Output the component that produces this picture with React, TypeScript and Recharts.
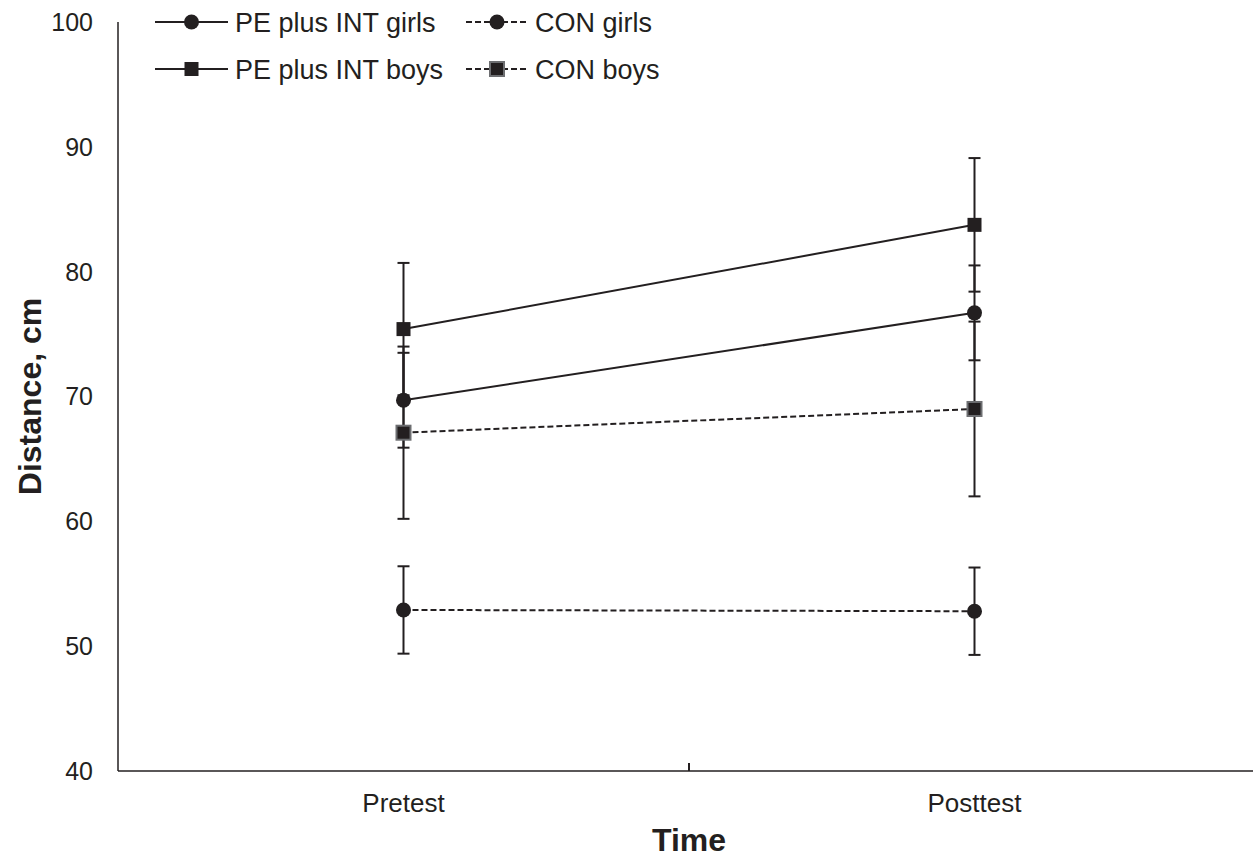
import React from "react";
import { LineChart, Line, XAxis, YAxis, ErrorBar, Legend } from "recharts";

const categories = ["Pretest", "Posttest"];
const peGirls = [69.7, 76.7];
const peGirlsSd = [3.8, 3.8];
const conGirls = [52.9, 52.8];
const conGirlsSd = [3.5, 3.5];
const peBoys = [75.4, 83.75];
const peBoysSd = [5.3, 5.35];
const conBoys = [67.1, 69.0];
const conBoysSd = [6.9, 7.0];
const yTicks = [40, 50, 60, 70, 80, 90, 100];

const INK = "#231f20";
const FONT = "Arial, 'Liberation Sans', Helvetica, sans-serif";

// x runs 0..2, each category sits in the middle of its half
const data = categories.map((name, i) => ({
  x: i + 0.5,
  name,
  peGirls: peGirls[i],
  peGirlsSd: peGirlsSd[i],
  conGirls: conGirls[i],
  conGirlsSd: conGirlsSd[i],
  peBoys: peBoys[i],
  peBoysSd: peBoysSd[i],
  conBoys: conBoys[i],
  conBoysSd: conBoysSd[i],
}));

type Shape = "circle" | "square";

const series = [
  { key: "peGirls", name: "PE plus INT girls", shape: "circle" as Shape, dashed: false, outline: "none" },
  { key: "conGirls", name: "CON girls", shape: "circle" as Shape, dashed: true, outline: "none" },
  { key: "peBoys", name: "PE plus INT boys", shape: "square" as Shape, dashed: false, outline: "none" },
  { key: "conBoys", name: "CON boys", shape: "square" as Shape, dashed: true, outline: "#6d6e71" },
];

function marker(cx: number, cy: number, shape: Shape, outline: string, key?: string) {
  if (shape === "circle") {
    return <circle key={key} cx={cx} cy={cy} r={7.5} fill={INK} />;
  }
  return (
    <rect
      key={key}
      x={cx - 7}
      y={cy - 7}
      width={14}
      height={14}
      fill={INK}
      stroke={outline}
      strokeWidth={outline === "none" ? 0 : 2}
    />
  );
}

function XTick(props: any) {
  const { x, y, payload } = props;
  if (payload.value === 1) {
    return <line x1={x} x2={x} y1={y} y2={y - 8} stroke={INK} strokeWidth={2} />;
  }
  return (
    <text x={x} y={y + 41} textAnchor="middle" fill={INK} fontSize={26} fontFamily={FONT}>
      {categories[Math.floor(payload.value)]}
    </text>
  );
}

function LegendBox() {
  const cols = [
    { x0: 155, len: 73 },
    { x0: 466, len: 62 },
  ];
  return (
    <svg width={720} height={95}>
      {series.map((s, i) => {
        const { x0, len } = cols[i % 2];
        const y = i < 2 ? 22 : 69;
        return (
          <g key={s.key}>
            <line
              x1={x0}
              x2={x0 + len}
              y1={y}
              y2={y}
              stroke={INK}
              strokeWidth={2}
              strokeDasharray={s.dashed ? "6 3" : undefined}
            />
            {marker(x0 + len / 2, y, s.shape, s.outline)}
            <text x={x0 + len + 7} y={y} dy="0.355em" fontSize={27} fill={INK} fontFamily={FONT}>
              {s.name}
            </text>
          </g>
        );
      })}
    </svg>
  );
}

export default function App() {
  return (
    <div style={{ position: "absolute", left: 0, top: 0, width: 1253, height: 857, overflow: "hidden", background: "#fff" }}>
      <LineChart width={1260} height={857} data={data} margin={{ top: 22, right: 0, bottom: 0, left: 0 }}>
        <XAxis
          dataKey="x"
          type="number"
          domain={[0, 2]}
          ticks={[0.5, 1, 1.5]}
          height={86}
          tickLine={false}
          tickSize={0}
          tickMargin={0}
          tick={<XTick />}
          stroke={INK}
          strokeWidth={1.5}
          label={(p: any) => (
            <text
              x={p.viewBox.x + p.viewBox.width / 2}
              y={851}
              textAnchor="middle"
              fontSize={32}
              fontWeight="bold"
              fill={INK}
              fontFamily={FONT}
            >
              Time
            </text>
          )}
        />
        <YAxis
          domain={[40, 100]}
          ticks={yTicks}
          width={118}
          tickLine={false}
          tickSize={0}
          tickMargin={25}
          stroke={INK}
          strokeWidth={1.5}
          tick={{ fill: INK, fontSize: 25, fontFamily: FONT }}
          label={(p: any) => (
            <text
              x={30}
              y={p.viewBox.y + p.viewBox.height / 2}
              transform={`rotate(-90, 30, ${p.viewBox.y + p.viewBox.height / 2})`}
              textAnchor="middle"
              dominantBaseline="central"
              fontSize={32}
              fontWeight="bold"
              fill={INK}
              fontFamily={FONT}
            >
              Distance, cm
            </text>
          )}
        />
        <Legend
          layout="vertical"
          align="center"
          verticalAlign="middle"
          wrapperStyle={{ left: 0, top: 0, width: 720, height: 95 }}
          content={() => <LegendBox />}
        />
        {series.map((s) => (
          <Line
            key={s.key}
            dataKey={s.key}
            name={s.name}
            stroke={INK}
            strokeWidth={2}
            strokeDasharray={s.dashed ? "6 3" : undefined}
            isAnimationActive={false}
            dot={(p: any) => marker(p.cx, p.cy, s.shape, s.outline, `${s.key}-${p.index}`)}
            activeDot={false}
          >
            <ErrorBar dataKey={`${s.key}Sd`} width={6} strokeWidth={2} stroke={INK} direction="y" />
          </Line>
        ))}
      </LineChart>
    </div>
  );
}
